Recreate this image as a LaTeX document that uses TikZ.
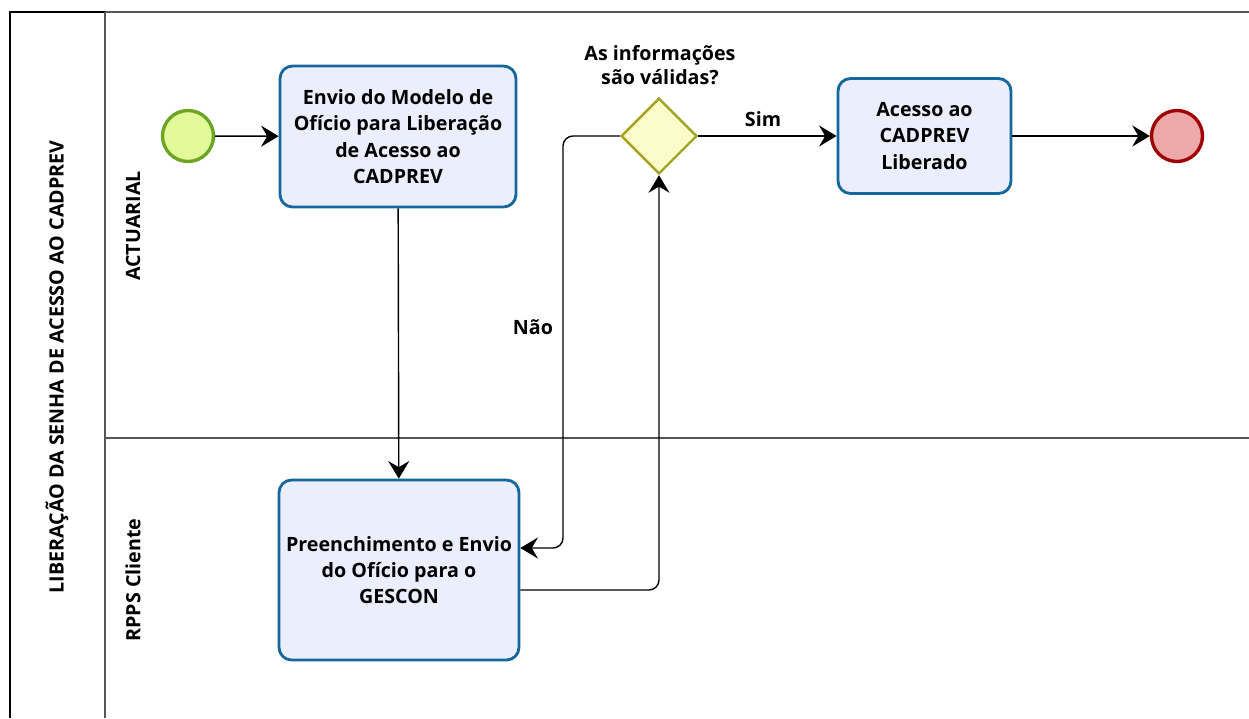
\documentclass[tikz,border=0pt]{standalone}
\usepackage{fontspec}
\setmainfont{Open Sans}
\usetikzlibrary{shapes.geometric,arrows.meta}

\definecolor{taskfill}{HTML}{EBEEFD}
\definecolor{taskline}{HTML}{14669C}
\definecolor{startfill}{HTML}{E2FA9A}
\definecolor{startline}{HTML}{6BA523}
\definecolor{endfill}{HTML}{EDA8A9}
\definecolor{endline}{HTML}{A10000}
\definecolor{gwfill}{HTML}{FDFDCB}
\definecolor{gwline}{HTML}{A3A323}
\definecolor{laneline}{HTML}{555555}

\begin{document}
\begin{tikzpicture}[x=0.02cm,y=-0.02cm,
  font=\bfseries\fontsize{11.2}{15}\selectfont,
  task/.style={draw=taskline,fill=taskfill,line width=1.6pt,rounded corners=0.25cm,align=center,inner sep=2pt},
  startev/.style={circle,draw=startline,fill=startfill,line width=1.9pt,minimum size=1.02cm,inner sep=0pt},
  endev/.style={circle,draw=endline,fill=endfill,line width=1.9pt,minimum size=1.02cm,inner sep=0pt},
  gateway/.style={diamond,draw=gwline,fill=gwfill,line width=1.4pt,minimum width=1.52cm,minimum height=1.52cm,inner sep=0pt},
  flow/.style={-{Stealth[length=10pt,width=12pt,inset=3.5pt]},line width=0.8pt,rounded corners=0.2cm},
  lane/.style={draw=laneline,line width=0.9pt}]
\useasboundingbox (0,0) rectangle (1249,718);

% pool and lanes
\draw[line width=0.9pt] (10,718) -- (10,12) -- (105,12);
\draw[lane] (105,12) -- (1249,12);
\draw[lane] (105,12) -- (105,718);
\draw[lane] (105,438) -- (1249,438);
\node[rotate=90] (pool) at (57,367) {LIBERAÇÃO DA SENHA DE ACESSO AO CADPREV};
\node[rotate=90] (actuarial) at (133,226) {ACTUARIAL};
\node[rotate=90] (rpps) at (133,580) {RPPS Cliente};

% events, tasks, gateway
\node[startev] (start) at (188,136) {};
\node[task,minimum width=4.72cm,minimum height=2.82cm] (envio) at (398,136.5)
  {Envio do Modelo de\\Ofício para Liberação\\de Acesso ao\\CADPREV};
\node[task,minimum width=4.8cm,minimum height=3.6cm] (preench) at (399,570)
  {Preenchimento e Envio\\do Ofício para o\\GESCON};
\node[gateway] (valida) at (659,136) {};
\node[align=center] (pergunta) at (660,65) {As informações\\[-1pt]são válidas?};
\node[task,minimum width=3.46cm,minimum height=2.3cm] (acesso) at (924.5,136)
  {Acesso ao\\CADPREV\\Liberado};
\node[endev] (fim) at (1177,136) {};

% flows
\draw[flow] (start) -- (envio);
\draw[flow] (envio) -- (preench);
\draw[flow] (valida.west) -| (563,548) -- ([yshift=0.44cm]preench.east);
\draw[flow] ([yshift=-0.4cm]preench.east) -| (valida.south);
\draw[flow] (valida) -- (acesso);
\draw[flow] (acesso) -- (fim);

\node (nao) at (533,327) {Não};
\node (sim) at (763,119) {Sim};

\end{tikzpicture}
\end{document}
